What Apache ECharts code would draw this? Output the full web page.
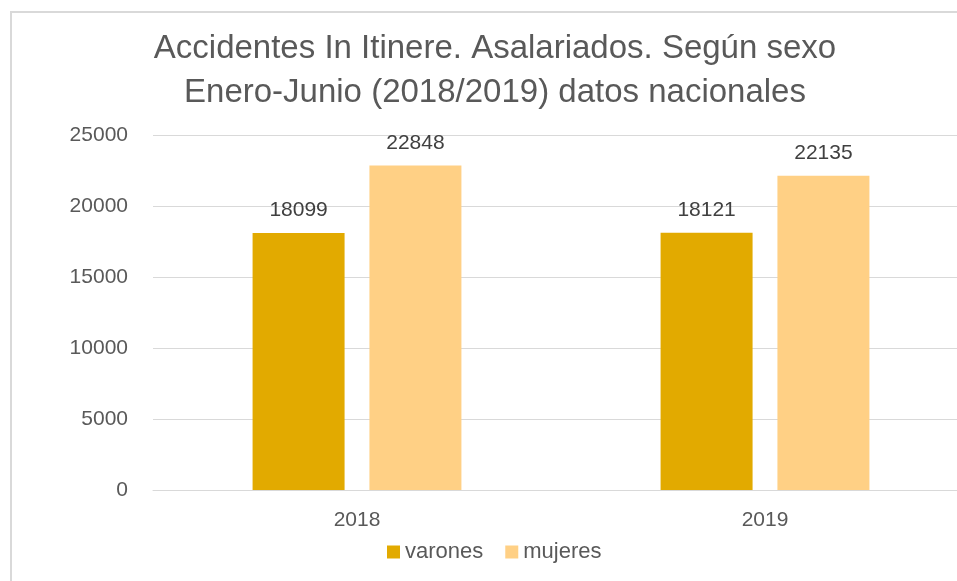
<!DOCTYPE html>
<html lang="es">
<head>
    <meta charset="UTF-8">
    <title>Accidentes In Itinere</title>
    <script src="https://cdn.jsdelivr.net/npm/echarts@6/dist/echarts.min.js"></script>
    <style>
        html, body {
            margin: 0;
            padding: 0;
            background: #ffffff;
            width: 957px;
            height: 581px;
            overflow: hidden;
        }
        /* marco gris del area del grafico */
        .frame {
            position: absolute;
            left: 10px;
            top: 11px;
            width: 960px;
            height: 600px;
            border-left: 2px solid #d9d9d9;
            border-top: 2px solid #d9d9d9;
        }
        /* el grafico sigue mas alla del borde derecho, como en el original */
        #chart {
            position: absolute;
            left: 0;
            top: 0;
            width: 972px;
            height: 581px;
        }
    </style>
</head>
<body>
    <div class="frame"></div>
    <div id="chart"></div>
    <script>
        // datos
        var years = ['2018', '2019'];
        var varones = [18099, 18121];
        var mujeres = [22848, 22135];
        var yTicks = [0, 5000, 10000, 15000, 20000, 25000];

        var chart = echarts.init(document.getElementById('chart'));
        var font = '"Liberation Sans", Arial, sans-serif';

        chart.setOption({
            animation: false,
            title: {
                text: 'Accidentes In Itinere. Asalariados. Según sexo\nEnero-Junio (2018/2019) datos nacionales',
                left: 490,
                textAlign: 'center',
                top: 22,
                textStyle: {
                    fontFamily: font,
                    fontWeight: 'normal',
                    fontSize: 33,
                    lineHeight: 44,
                    color: '#595959'
                }
            },
            legend: {
                data: ['varones', 'mujeres'],
                left: 382,
                top: 536,
                itemWidth: 13,
                itemHeight: 13,
                itemGap: 22,
                icon: 'rect',
                textStyle: { fontFamily: font, fontSize: 22, color: '#595959' }
            },
            grid: {
                left: 153,
                right: 3,
                top: 135,
                bottom: 91,
                containLabel: false
            },
            xAxis: {
                type: 'category',
                data: years,
                axisLine: { lineStyle: { color: '#d9d9d9', width: 1 } },
                axisTick: { show: false },
                axisLabel: { fontFamily: font, fontSize: 21, color: '#595959', margin: 20 }
            },
            yAxis: {
                type: 'value',
                min: yTicks[0],
                max: yTicks[yTicks.length - 1],
                interval: 5000,
                axisLine: { show: false },
                axisTick: { show: false },
                splitLine: { lineStyle: { color: '#d9d9d9', width: 1 } },
                axisLabel: {
                    fontFamily: font, fontSize: 21, color: '#595959', margin: 25,
                    formatter: function (v) { return String(v); }
                }
            },
            series: [
                {
                    name: 'varones',
                    type: 'bar',
                    data: varones,
                    barWidth: 92,
                    barGap: '27%',
                    itemStyle: { color: '#E2AA00' },
                    label: {
                        show: true,
                        position: 'top',
                        distance: 12,
                        fontFamily: font,
                        fontSize: 21,
                        color: '#404040'
                    }
                },
                {
                    name: 'mujeres',
                    type: 'bar',
                    data: mujeres,
                    barWidth: 92,
                    itemStyle: { color: '#FFD085' },
                    label: {
                        show: true,
                        position: 'top',
                        distance: 12,
                        fontFamily: font,
                        fontSize: 21,
                        color: '#404040'
                    }
                }
            ]
        });
    </script>
</body>
</html>
